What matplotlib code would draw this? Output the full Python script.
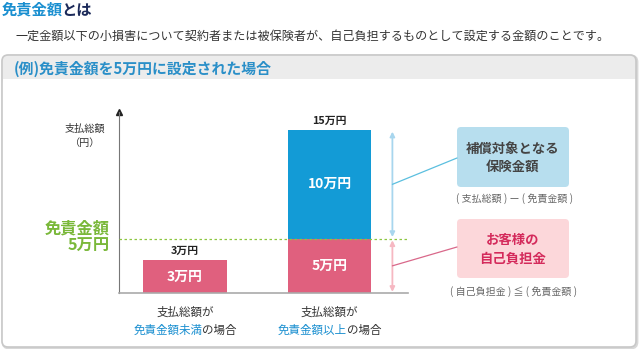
import matplotlib
matplotlib.use("Agg")
import matplotlib.pyplot as plt
from matplotlib.patches import FancyBboxPatch, Rectangle, ConnectionPatch
from matplotlib import transforms

plt.rcParams['font.family'] = ['Noto Sans CJK JP', 'DejaVu Sans']

# データ（単位：万円）
self_pay = [3, 5]          # 自己負担分（ピンク）
covered = [0, 10]          # 補償対象分（青）
deductible = 5             # 免責金額
label_top = ['支払総額が', '支払総額が']
label_blue = ['免責金額未満', '免責金額以上']
label_tail = ['の場合', 'の場合']

BLUE = '#139bd6'
PINK = '#e0607e'
GREEN = '#7ab83a'
TXT_BLUE = '#1a8fd0'

fig = plt.figure(figsize=(6.4, 3.49), dpi=100)

# 背景（ピクセル座標）
bg = fig.add_axes([0, 0, 1, 1])
bg.set_xlim(0, 640)
bg.set_ylim(349, 0)
bg.axis('off')

# タイトル
t1 = bg.text(2, 10, '免責金額', color=TXT_BLUE, fontsize=11, fontweight='bold', va='center')
bg.annotate('とは', xy=(1, 0.5), xycoords=t1, xytext=(-1, 0), textcoords='offset points',
            color='#1c2a5a', fontsize=11, fontweight='bold', va='center')
bg.text(16, 36, '一定金額以下の小損害について契約者または被保険者が、自己負担するものとして設定する金額のことです。',
        color='#333333', fontsize=8.7, va='center')

# パネル
bg.add_patch(FancyBboxPatch((3, 56), 634, 292, boxstyle='round,pad=0,rounding_size=6',
                            fc='none', ec='#d8d8d8', lw=2))
bg.add_patch(FancyBboxPatch((2, 55), 634, 292, boxstyle='round,pad=0,rounding_size=6',
                            fc='white', ec='none'))
bg.add_patch(FancyBboxPatch((2, 55), 634, 30, boxstyle='round,pad=0,rounding_size=6',
                            fc='#ececec', ec='none'))
bg.add_patch(Rectangle((2.5, 79), 633, 10, fc='white', ec='none'))
bg.add_patch(FancyBboxPatch((2, 55), 634, 292, boxstyle='round,pad=0,rounding_size=6',
                            fc='none', ec='#c8c8c8', lw=1.2))
bg.text(14, 69, '(例)免責金額を5万円に設定された場合', color='#2a8fc8', fontsize=10.7,
        fontweight='bold', va='center')

# 棒グラフ
ax = fig.add_axes([119 / 640, (349 - 293) / 349, 289 / 640, 181 / 349])
ax.patch.set_alpha(0)
xs = [0, 1]
w = 0.58
ax.bar(xs, self_pay, width=w, color=PINK, zorder=2)
ax.bar(xs, covered, width=w, bottom=self_pay, color=BLUE, zorder=2)
ax.set_xlim(-0.457, 1.543)
ax.set_ylim(0, 15 * 181 / 163)
for s in ['top', 'right']:
    ax.spines[s].set_visible(False)
ax.spines['left'].set_color('#777777')
ax.spines['bottom'].set_color('#aaaaaa')
ax.spines['bottom'].set_linewidth(1.2)
ax.set_xticks([])
ax.set_yticks([])
ax.plot(0, 1, marker='^', transform=ax.transAxes, clip_on=False, color='#222222', ms=5)
ax.axhline(deductible, color='#8cc63f', ls=(0, (2, 2)), lw=0.9, zorder=3)

for i in xs:
    total = self_pay[i] + covered[i]
    ax.annotate(f'{total}万円', xy=(i, total), xytext=(0, 3), textcoords='offset points',
                ha='center', va='bottom', fontsize=7.8, fontweight='bold', color='#222222')
    ax.text(i, self_pay[i] / 2, f'{self_pay[i]}万円', ha='center', va='center',
            fontsize=10, fontweight='bold', color='white', zorder=4)
    if covered[i] > 0:
        ax.text(i, self_pay[i] + covered[i] / 2, f'{covered[i]}万円', ha='center', va='center',
                fontsize=10, fontweight='bold', color='white', zorder=4)

# x軸ラベル
blend = transforms.blended_transform_factory(ax.transData, bg.transData)
fs = 8.3
for i in xs:
    bg.text(i, 312, label_top[i], transform=blend, ha='center', va='center',
            fontsize=fs, color='#333333')
    n_all = len(label_blue[i]) + len(label_tail[i])
    shift = (len(label_blue[i]) - n_all / 2) * fs
    bg.annotate(label_blue[i], xy=(i, 330), xycoords=blend, xytext=(shift, 0),
                textcoords='offset points', ha='right', va='center', fontsize=fs, color=TXT_BLUE)
    bg.annotate(label_tail[i], xy=(i, 330), xycoords=blend, xytext=(shift, 0),
                textcoords='offset points', ha='left', va='center', fontsize=fs, color='#333333')

# 軸ラベル
bg.text(85, 136, '支払総額\n（円）', ha='center', va='center', fontsize=7.3,
        color='#333333', linespacing=1.5)
bg.text(110, 237, '免責金額\n5万円', ha='right', va='center', fontsize=11.7,
        fontweight='bold', color=GREEN, linespacing=1.15)

# 両矢印
ax_arrow = 1 + w / 2 + 0.145
total2 = self_pay[1] + covered[1]
ax.annotate('', xy=(ax_arrow, total2 - 0.15), xytext=(ax_arrow, deductible + 0.15),
            arrowprops=dict(arrowstyle='<|-|>', color='#a8d6ee', lw=1.3, mutation_scale=7,
                            shrinkA=0, shrinkB=0))
ax.annotate('', xy=(ax_arrow, deductible - 0.15), xytext=(ax_arrow, 0.1),
            arrowprops=dict(arrowstyle='<|-|>', color='#f6b8c2', lw=1.3, mutation_scale=7,
                            shrinkA=0, shrinkB=0))

# 説明ボックス
bg.add_patch(FancyBboxPatch((457, 127), 112, 60, boxstyle='round,pad=0,rounding_size=4',
                            fc='#b7deee', ec='none'))
bg.add_patch(FancyBboxPatch((457, 219), 112, 59, boxstyle='round,pad=0,rounding_size=4',
                            fc='#fcd7da', ec='none'))
bg.text(513, 158, '補償対象となる\n保険金額', ha='center', va='center', fontsize=9.6,
        fontweight='bold', color='#444444', linespacing=1.4)
bg.text(513, 249, 'お客様の\n自己負担金', ha='center', va='center', fontsize=9.6,
        fontweight='bold', color='#d42a5b', linespacing=1.4)
bg.text(514, 199, '( 支払総額 ) ー ( 免責金額 )', ha='center', va='center', fontsize=7.2,
        color='#666666')
bg.text(514, 292, '( 自己負担金 ) ≦ ( 免責金額 )', ha='center', va='center', fontsize=7.2,
        color='#666666')

# 接続線
fig.add_artist(ConnectionPatch(xyA=(ax_arrow, (deductible + total2) / 2), coordsA=ax.transData,
                               xyB=(457, 158), coordsB=bg.transData, color='#5bbfdf', lw=0.9))
fig.add_artist(ConnectionPatch(xyA=(ax_arrow, deductible / 2), coordsA=ax.transData,
                               xyB=(457, 247), coordsB=bg.transData, color='#d9688a', lw=0.9))

fig.savefig('out.png', dpi=100)
